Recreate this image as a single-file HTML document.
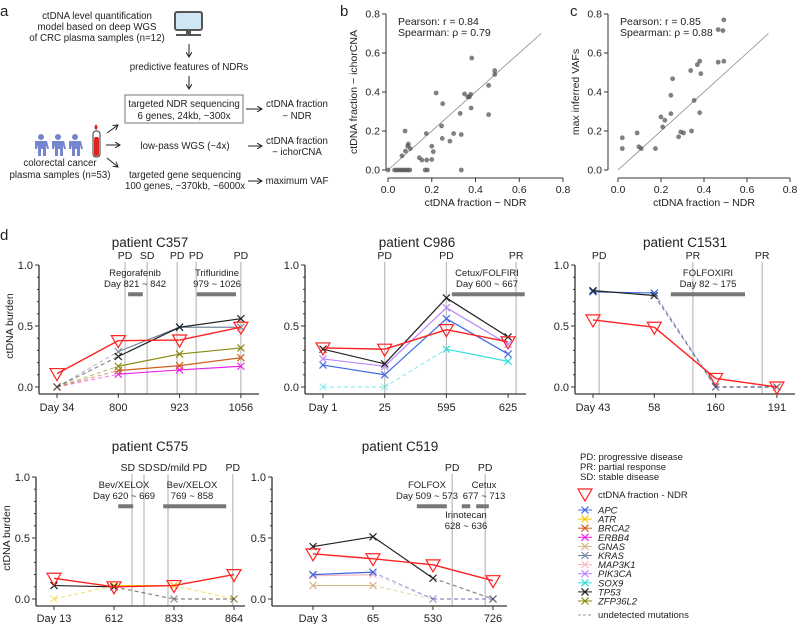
<!DOCTYPE html>
<html><head><meta charset="utf-8">
<style>
body{margin:0;background:#fff;}
svg{display:block;font-family:"Liberation Sans",Arial,sans-serif;}
text{fill:#222;}
</style></head>
<body>
<svg id="fig" width="799" height="624" viewBox="0 0 799 624" xmlns="http://www.w3.org/2000/svg">
<defs>
<marker id="ah" markerWidth="6" markerHeight="6" refX="5" refY="3" orient="auto"><path d="M0,0 L5,3 L0,6" fill="none" stroke="#222" stroke-width="1"/></marker>
</defs>
<text x="0" y="16" font-size="15">a</text>
<text x="340" y="16" font-size="15">b</text>
<text x="570" y="16" font-size="15">c</text>
<text x="0" y="240" font-size="15">d</text>

<g font-size="9.7" text-anchor="middle">
<text x="97" y="19">ctDNA level quantification</text>
<text x="97" y="30">model based on deep WGS</text>
<text x="97" y="41">of CRC plasma samples (n=12)</text>
<g>
<rect x="175" y="12" width="27" height="18" rx="2" fill="#cfe6f5" stroke="#555" stroke-width="2"/>
<rect x="186" y="30" width="5" height="4" fill="#555"/><rect x="176" y="34" width="25" height="2" fill="#555"/>
</g>
<line x1="189" y1="44" x2="189" y2="57" stroke="#222" marker-end="url(#ah)"/>
<text x="189" y="70">predictive features of NDRs</text>
<line x1="189" y1="76" x2="189" y2="89" stroke="#222" marker-end="url(#ah)"/>
<rect x="125" y="95" width="118" height="28" fill="none" stroke="#777"/>
<text x="184" y="107">targeted NDR sequencing</text>
<text x="184" y="119">6 genes, 24kb, ~300x</text>
<line x1="246" y1="109" x2="262" y2="109" stroke="#222" marker-end="url(#ah)"/>
<text x="297" y="107">ctDNA fraction</text>
<text x="297" y="119">− NDR</text>
<text x="185" y="149">low-pass WGS (~4x)</text>
<line x1="248" y1="146" x2="262" y2="146" stroke="#222" marker-end="url(#ah)"/>
<text x="297" y="144">ctDNA fraction</text>
<text x="297" y="155">− ichorCNA</text>
<text x="185" y="178">targeted gene sequencing</text>
<text x="185" y="189">100 genes, ~370kb, ~6000x</text>
<line x1="248" y1="181" x2="262" y2="181" stroke="#222" marker-end="url(#ah)"/>
<text x="297" y="184">maximum VAF</text>
<g fill="#7486cf">
<g><circle cx="41" cy="137" r="3"/><path d="M35,141 h12 l2,8 h-2 l-1,-4 v11 h-3 v-7 h-2 v7 h-3 v-11 l-1,4 h-2z"/></g>
<g><circle cx="58" cy="137" r="3"/><path d="M52,141 h12 l2,8 h-2 l-1,-4 v11 h-3 v-7 h-2 v7 h-3 v-11 l-1,4 h-2z"/></g>
<g><circle cx="75" cy="137" r="3"/><path d="M69,141 h12 l2,8 h-2 l-1,-4 v11 h-3 v-7 h-2 v7 h-3 v-11 l-1,4 h-2z"/></g>
</g>
<g>
<path d="M96,124 q-3,4 0,6 q3,-2 0,-6z" fill="#d22"/>
<rect x="93" y="131" width="7" height="26" rx="3" fill="#fff" stroke="#333"/>
<rect x="94" y="137" width="5" height="19" rx="2" fill="#d22"/>
</g>
<line x1="107" y1="133" x2="118" y2="125" stroke="#222" marker-end="url(#ah)"/>
<line x1="106" y1="145" x2="120" y2="145" stroke="#222" marker-end="url(#ah)"/>
<line x1="107" y1="158" x2="118" y2="167" stroke="#222" marker-end="url(#ah)"/>
<text x="60" y="166">colorectal cancer</text>
<text x="60" y="178">plasma samples (n=53)</text>
</g>
<g id="plots"></g>
</svg>
<script>
const bX = [0.383,0.488,0.488,0.46,0.22,0.35,0.378,0.365,0.372,0.25,0.38,0.33,0.46,0.245,0.078,0.175,0.30,0.335,0.248,0.283,0.093,0.09,0.2,0.102,0.08,0.064,0.207,0.143,0.155,0.177,0.2,0.0,0.03,0.04,0.05,0.06,0.07,0.08,0.09,0.1,0.17,0.18,0.335];
const bY = [0.574,0.51,0.49,0.434,0.395,0.39,0.388,0.375,0.375,0.34,0.318,0.29,0.284,0.226,0.2,0.187,0.187,0.182,0.162,0.148,0.133,0.122,0.122,0.11,0.097,0.073,0.094,0.063,0.051,0.051,0.054,0,0,0,0,0,0,0,0,0,0,0,0];
const cX = [0.492,0.466,0.488,0.466,0.492,0.338,0.369,0.38,0.385,0.254,0.246,0.354,0.246,0.38,0.2,0.218,0.208,0.292,0.342,0.305,0.282,0.089,0.02,0.02,0.097,0.108,0.174];
const cY = [0.77,0.72,0.715,0.553,0.558,0.51,0.54,0.558,0.494,0.468,0.383,0.357,0.289,0.294,0.272,0.255,0.221,0.195,0.2,0.19,0.17,0.19,0.165,0.11,0.119,0.11,0.11];
const scatterTicks = [0,0.2,0.4,0.6,0.8];
const scatterTickLabels = ["0.0","0.2","0.4","0.6","0.8"];

const genes = ["APC","ATR","BRCA2","ERBB4","GNAS","KRAS","MAP3K1","PIK3CA","SOX9","TP53","ZFP36L2"];
const geneColors = {APC:"#4169e1",ATR:"#f5c800",BRCA2:"#cf5f1e",ERBB4:"#ee22ee",GNAS:"#d8b48a",KRAS:"#7488a0",MAP3K1:"#f7b7c3",PIK3CA:"#bb88ff",SOX9:"#33dddd",TP53:"#222222",ZFP36L2:"#8a8a10"};
const yTicks = [0,0.5,1.0];
const yTickLabels = ["0.0","0.5","1.0"];

const c357Days = ["Day 34","800","923","1056"];
const c357NDR = [0.11,0.38,0.385,0.49];
const c357TP53 = [0,0.25,0.49,0.56];
const c357KRAS = [0,0.29,0.49,0.49];
const c357ZFP36L2 = [0,0.17,0.27,0.32];
const c357BRCA2 = [0,0.135,0.175,0.24];
const c357ERBB4 = [0,0.105,0.14,0.17];
const c357Detected = [false,true,true,true];
const c357Events = ["PD","SD","PD","PD","PD"];
const c357EventPos = [1.11,1.47,1.96,2.27,3.0];

const c986Days = ["Day 1","25","595","625"];
const c986NDR = [0.32,0.31,0.47,0.37];
const c986TP53 = [0.31,0.19,0.73,0.41];
const c986PIK3CA = [0.23,0.17,0.65,0.35];
const c986APC = [0.18,0.10,0.56,0.27];
const c986SOX9 = [0,0,0.31,0.21];
const c986SOX9Detected = [false,false,true,true];
const c986Events = ["PD","PD","PR"];
const c986EventPos = [1.0,2.0,3.13];

const c1531Days = ["Day 43","58","160","191"];
const c1531NDR = [0.55,0.49,0.07,0.0];
const c1531TP53 = [0.79,0.75,0,0];
const c1531APC = [0.78,0.77,0,0];
const c1531Detected = [true,true,false,false];
const c1531Events = ["PD","PR","PR"];
const c1531EventPos = [0.1,1.63,2.76];

const c575Days = ["Day 13","612","833","864"];
const c575NDR = [0.17,0.10,0.11,0.20];
const c575TP53 = [0.11,0.10,0,0];
const c575TP53Detected = [true,true,false,false];
const c575ATR = [0,0.11,0.11,0];
const c575ATRDetected = [false,true,true,false];
const c575Events = ["SD","SD","SD/mild PD","PD"];
const c575EventPos = [1.3,1.5,1.9,2.98];
const c575LabelPos = [1.23,1.52,2.1,2.98];

const c519Days = ["Day 3","65","530","726"];
const c519NDR = [0.37,0.33,0.28,0.15];
const c519TP53 = [0.43,0.51,0.17,0];
const c519TP53Detected = [true,true,true,false];
const c519APC = [0.20,0.22,0,0];
const c519MAP3K1 = [0.19,0.20,0,0];
const c519GNAS = [0.11,0.11,0,0];
const c519Detected = [true,true,false,false];
const c519Events = ["PD","PD"];
const c519EventPos = [2.32,2.87];

const NS="http://www.w3.org/2000/svg";
const root=document.getElementById('plots');
function mk(tag,attrs,parent){const e=document.createElementNS(NS,tag);for(const k in attrs)e.setAttribute(k,attrs[k]);(parent||root).appendChild(e);return e;}
function txt(x,y,s,size,anchor,parent){const t=mk('text',{x:x,y:y,'font-size':size,'text-anchor':anchor||'middle'},parent);t.textContent=s;return t;}

function scatter(name,ax,x0,x1,yTop,yBot,xs,ys,yLabel){
  const g=mk('g',{});
  
  
  const sx=v=>x0+(x1-x0)*v/0.8, sy=v=>yBot+(yTop-yBot)*v/0.8;
  mk('line',{x1:ax,y1:sy(0.8),x2:ax,y2:sy(0),stroke:'#333'},g);
  mk('line',{x1:sx(0),y1:178,x2:sx(0.8),y2:178,stroke:'#333'},g);
  scatterTicks.forEach((v,i)=>{
    mk('line',{x1:ax-4,y1:sy(v),x2:ax,y2:sy(v),stroke:'#333'},g);
    const yl=txt(ax-6,sy(v)+3.5,scatterTickLabels[i],10.5,'end',g);
    
    mk('line',{x1:sx(v),y1:178,x2:sx(v),y2:182,stroke:'#333'},g);
    const xl=txt(sx(v),193,scatterTickLabels[i],10.5,'middle',g);
    
  });
  mk('line',{x1:sx(0),y1:sy(0),x2:sx(0.7),y2:sy(0.7),stroke:'#888','stroke-width':0.8},g);
  xs.forEach((v,i)=>{
    const c=mk('circle',{cx:sx(v),cy:sy(ys[i]),r:2.4,fill:'#555','fill-opacity':0.75},g);
    
    
  });
  const xt=txt((sx(0)+sx(0.8))/2,206,'ctDNA fraction − NDR',10.5,'middle',g);
  
  const yt=txt(0,0,yLabel,10.5,'middle',g);
  yt.setAttribute('transform',`translate(${ax-29},${(sy(0)+sy(0.8))/2}) rotate(-90)`);
  
  return {g,sx,sy,ax};
}
const pb=scatter('scatter-b',386,388,563,14,170,bX,bY,'ctDNA fraction − ichorCNA');
txt(398,25,'Pearson:  r = 0.84',10.5,'start',pb.g);
txt(398,36,'Spearman: ρ = 0.79',10.5,'start',pb.g);
const pc=scatter('scatter-c',608,618,790,14,170,cX,cY,'max inferred VAFs');
txt(620,25,'Pearson:  r = 0.85',10.5,'start',pc.g);
txt(620,36,'Spearman: ρ = 0.88',10.5,'start',pc.g);

function cross(g,x,y,color,op){
  return mk('path',{d:`M${x-3.5},${y-3.5}L${x+3.5},${y+3.5}M${x-3.5},${y+3.5}L${x+3.5},${y-3.5}`,stroke:color,'stroke-width':1.2,'stroke-opacity':op,fill:'none'},g);
}
function tri(g,x,y){
  return mk('path',{d:`M${x-7},${y-5}L${x+7},${y-5}L${x},${y+7}Z`,fill:'none',stroke:'#f22','stroke-width':1.2},g);
}
function timeline(cfg){
  const g=mk('g',{});
  
  
  const sx=i=>cfg.x0+cfg.step*i, sy=v=>cfg.y0-122*v;
  const t=txt(cfg.titleX,cfg.titleY,cfg.title,13.5,'middle',g);
  
  const axY=cfg.y0+7;
  const lp=cfg.labelPos||cfg.eventPos;
  cfg.events.forEach((e,i)=>{
    const x=sx(cfg.eventPos[i]);
    const l=mk('line',{x1:x,y1:sy(1.0)-3,x2:x,y2:axY,stroke:'#bbb','stroke-width':1.2},g);
    
    const lab=txt(sx(lp[i]),sy(1.0)-6,e,10.5,'middle',g);
    
  });
  cfg.treat.forEach(tr=>{
    const r=mk('rect',{x:sx(tr.a),y:sy(0.76)-2,width:sx(tr.b)-sx(tr.a),height:4,fill:'#777'},g);
    
    tr.lines.forEach((s,j)=>{
      const tt=txt(tr.cx,tr.ty+j*11,s,9.5,'middle',g);
      
    });
  });
  mk('line',{x1:cfg.ax,y1:sy(1.0),x2:cfg.ax,y2:axY,stroke:'#333','stroke-width':1.3},g);
  mk('line',{x1:cfg.ax,y1:axY,x2:cfg.axEnd,y2:axY,stroke:'#333','stroke-width':1.3},g);
  for(let k=0;k<=10;k++){mk('line',{x1:cfg.ax-(k%5?2:4),y1:sy(k/10),x2:cfg.ax,y2:sy(k/10),stroke:'#333'},g);}
  yTicks.forEach((v,i)=>{const l=txt(cfg.ax-6,sy(v)+4,yTickLabels[i],11,'end',g);});
  cfg.days.forEach((d,i)=>{
    mk('line',{x1:sx(i),y1:axY,x2:sx(i),y2:axY+4,stroke:'#333'},g);
    const l=txt(sx(i),axY+cfg.tickDy,d,11,'middle',g);
    
  });
  if(cfg.ylabel){const yt=txt(0,0,'ctDNA burden',10.5,'middle',g);yt.setAttribute('transform',`translate(${cfg.ax-26},${sy(0.5)}) rotate(-90)`);}
  cfg.series.forEach(s=>{
    const col=geneColors[s.gene];
    for(let i=0;i<s.vals.length-1;i++){
      const dashed=!(s.det[i]&&s.det[i+1]);
      const l=mk('line',{x1:sx(i),y1:sy(s.vals[i]),x2:sx(i+1),y2:sy(s.vals[i+1]),stroke:col,'stroke-width':1.2,'stroke-opacity':dashed?0.55:1,'stroke-dasharray':dashed?'4,3':'none'},g);
      
    }
    s.vals.forEach((v,i)=>{
      const c=cross(g,sx(i),sy(v),col,s.det[i]?1:0.5);
      
      
    });
  });
  const n=cfg.ndr;
  for(let i=0;i<n.length-1;i++){const l=mk('line',{x1:sx(i),y1:sy(n[i]),x2:sx(i+1),y2:sy(n[i+1]),stroke:'#f22','stroke-width':1.4},g);}
  n.forEach((v,i)=>{const p=tri(g,sx(i),sy(v));});
}
const all=[true,true,true,true];
timeline({name:'chart-c357',title:'patient C357',titleX:150,titleY:247,x0:57,step:61.3,y0:387,ax:39,axEnd:259,ylabel:true,days:c357Days,tickDy:17,
 events:c357Events,eventPos:c357EventPos,
 treat:[{a:1.16,b:1.40,cx:135,ty:276,lines:['Regorafenib','Day 821 ~ 842']},{a:2.28,b:2.92,cx:217,ty:276,lines:['Trifluridine','979 ~ 1026']}],
 series:[{gene:'ERBB4',vals:c357ERBB4,det:c357Detected},{gene:'BRCA2',vals:c357BRCA2,det:c357Detected},{gene:'ZFP36L2',vals:c357ZFP36L2,det:c357Detected},{gene:'KRAS',vals:c357KRAS,det:c357Detected},{gene:'TP53',vals:c357TP53,det:c357Detected}],
 ndr:c357NDR});
timeline({name:'chart-c986',title:'patient C986',titleX:417,titleY:247,x0:323,step:61.7,y0:387,ax:305,axEnd:526,ylabel:false,days:c986Days,tickDy:17,
 events:c986Events,eventPos:c986EventPos,
 treat:[{a:2.09,b:3.27,cx:487,ty:276,lines:['Cetux/FOLFIRI','Day 600 ~ 667']}],
 series:[{gene:'SOX9',vals:c986SOX9,det:c986SOX9Detected},{gene:'APC',vals:c986APC,det:all},{gene:'PIK3CA',vals:c986PIK3CA,det:all},{gene:'TP53',vals:c986TP53,det:all}],
 ndr:c986NDR});
timeline({name:'chart-c1531',title:'patient C1531',titleX:685,titleY:247,x0:593,step:61.3,y0:387,ax:575,axEnd:795,ylabel:false,days:c1531Days,tickDy:17,
 events:c1531Events,eventPos:c1531EventPos,
 treat:[{a:1.27,b:2.48,cx:708,ty:276,lines:['FOLFOXIRI','Day 82 ~ 175']}],
 series:[{gene:'APC',vals:c1531APC,det:c1531Detected},{gene:'TP53',vals:c1531TP53,det:c1531Detected}],
 ndr:c1531NDR});
timeline({name:'chart-c575',title:'patient C575',titleX:150,titleY:451,x0:54,step:60,y0:599,ax:36,axEnd:245,ylabel:true,days:c575Days,tickDy:16,
 events:c575Events,eventPos:c575EventPos,labelPos:c575LabelPos,
 treat:[{a:1.07,b:1.32,cx:124,ty:488,lines:['Bev/XELOX','Day 620 ~ 669']},{a:1.82,b:2.87,cx:192,ty:488,lines:['Bev/XELOX','769 ~ 858']}],
 series:[{gene:'ATR',vals:c575ATR,det:c575ATRDetected},{gene:'TP53',vals:c575TP53,det:c575TP53Detected}],
 ndr:c575NDR});
timeline({name:'chart-c519',title:'patient C519',titleX:400,titleY:451,x0:313,step:60,y0:599,ax:272,axEnd:507,ylabel:false,days:c519Days,tickDy:16,
 events:c519Events,eventPos:c519EventPos,
 treat:[{a:1.73,b:2.23,cx:427,ty:488,lines:['FOLFOX','Day 509 ~ 573']},{a:2.48,b:2.62,cx:466,ty:518,lines:['Irinotecan','628 ~ 636']},{a:2.72,b:2.93,cx:484,ty:488,lines:['Cetux','677 ~ 713']}],
 series:[{gene:'GNAS',vals:c519GNAS,det:c519Detected},{gene:'MAP3K1',vals:c519MAP3K1,det:c519Detected},{gene:'APC',vals:c519APC,det:c519Detected},{gene:'TP53',vals:c519TP53,det:c519TP53Detected}],
 ndr:c519NDR});

const lg=mk('g',{});


['PD: progressive disease','PR: partial response','SD: stable disease'].forEach((s,i)=>{
  const t=txt(580,460+i*10,s,9.5,'start',lg);
  
});
const lt=tri(lg,585,494);

txt(598,498,'ctDNA fraction - NDR',9.5,'start',lg);
genes.forEach((gname,i)=>{
  const y=510+i*9.1;
  mk('line',{x1:578,y1:y,x2:592,y2:y,stroke:geneColors[gname],'stroke-width':1},lg);
  const c=cross(lg,585,y,geneColors[gname],1);
  
  const t=txt(598,y+3.5,gname,9.5,'start',lg);
  t.setAttribute('font-style','italic');
  
});
mk('line',{x1:578,y1:615,x2:592,y2:615,stroke:'#999','stroke-dasharray':'3,2'},lg);
txt(598,618,'undetected mutations',9.5,'start',lg);
</script>
</body></html>
